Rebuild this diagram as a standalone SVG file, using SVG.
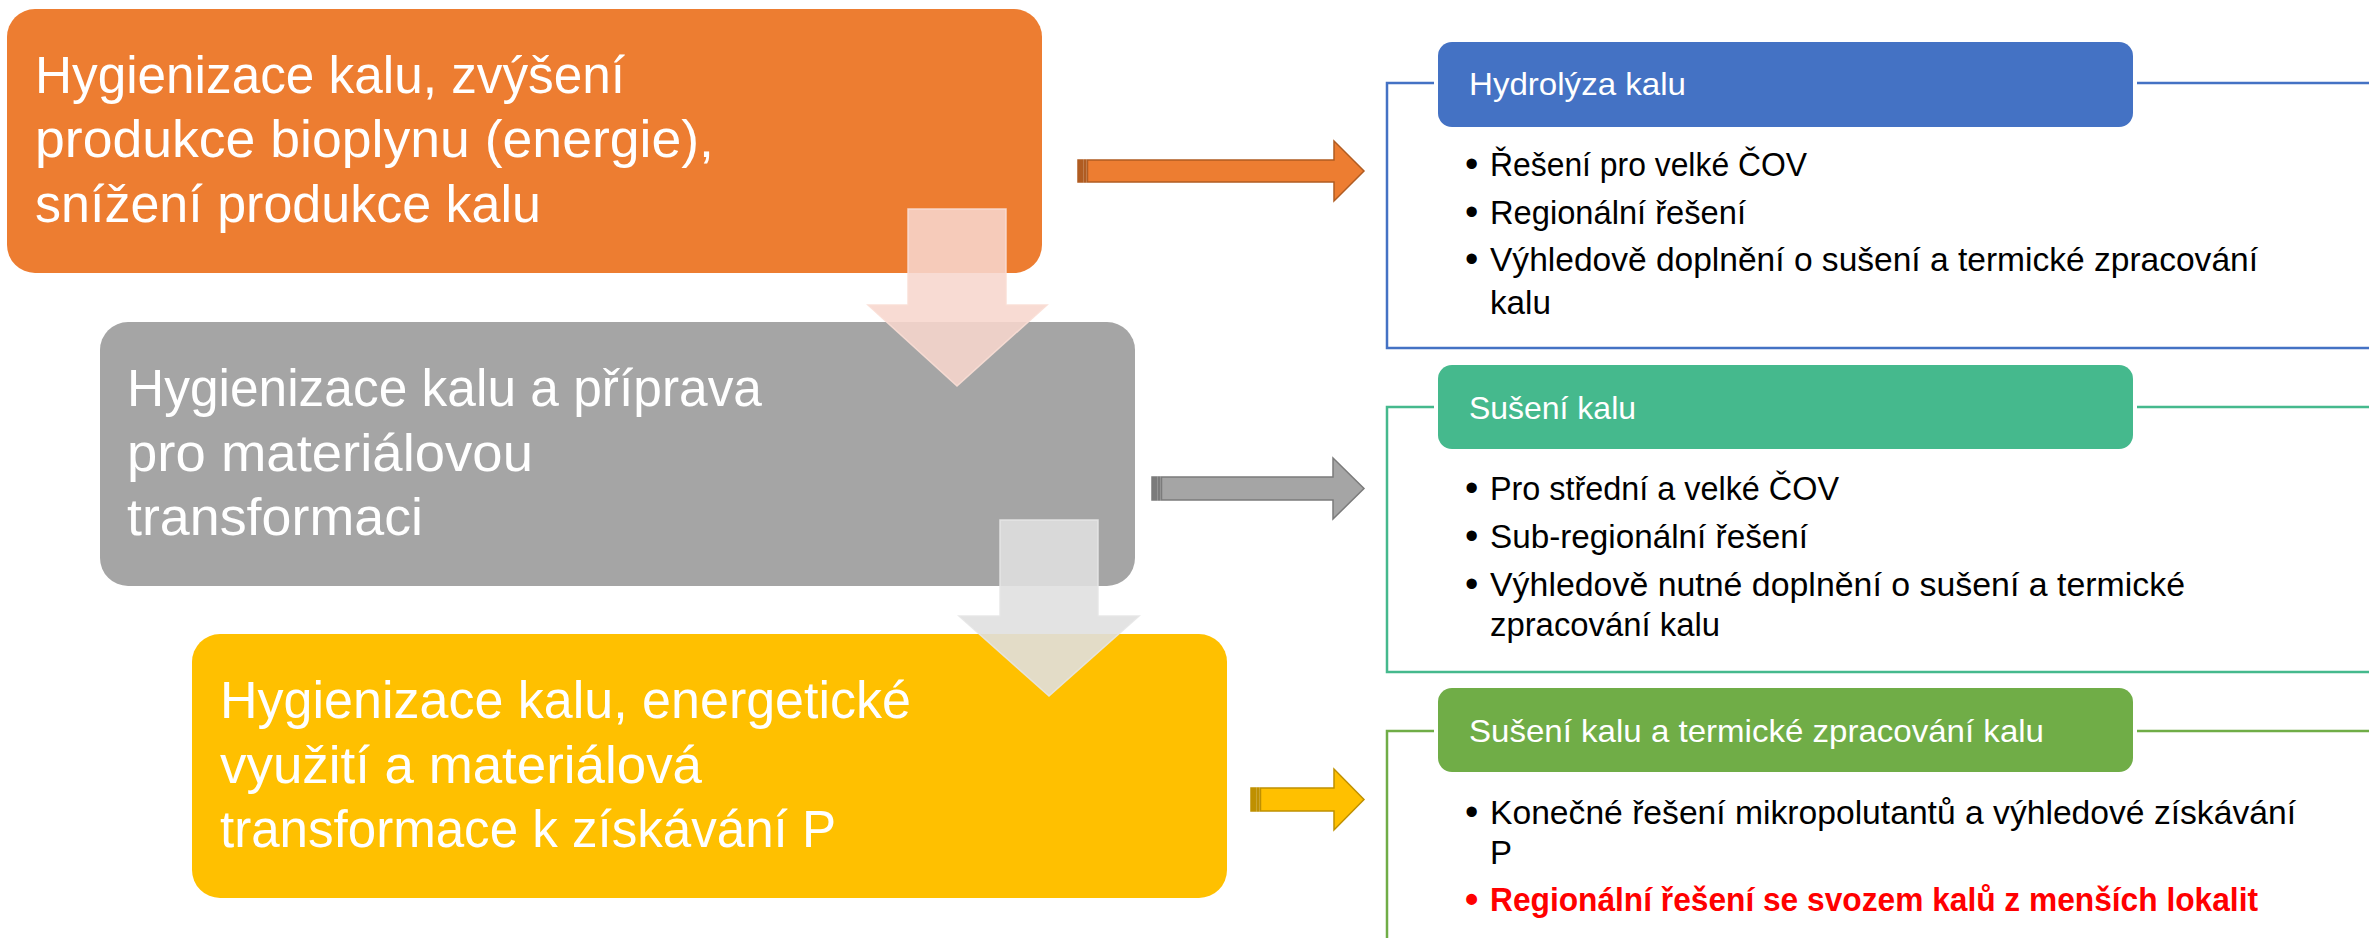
<svg xmlns="http://www.w3.org/2000/svg" width="2369" height="938" viewBox="0 0 2369 938">
  <style>
    .big { font-family: "Liberation Sans", Arial, sans-serif; font-size: 51px; fill: #ffffff; }
    .hdr { font-family: "Liberation Sans", Arial, sans-serif; font-size: 32px; fill: #ffffff; }
    .item { font-family: "Liberation Sans", Arial, sans-serif; font-size: 33px; fill: #000000; }
    .dot { font-family: "Liberation Sans", Arial, sans-serif; font-size: 38px; fill: #000000; }
    .red { font-weight: bold; fill: #ff0000; }
    .frame { fill: none; stroke-width: 2.5; }
    .gap { fill: #ffffff; }
  </style>

  <rect width="2369" height="938" fill="#ffffff"/>

  <!-- stage boxes on the left -->
  <g id="stage1">
    <rect x="7" y="9" width="1035" height="264" rx="28" fill="#ED7D31"/>
    <text class="big" x="35" y="93" textLength="590" lengthAdjust="spacingAndGlyphs">Hygienizace kalu, zvýšení</text>
    <text class="big" x="35" y="157" textLength="679" lengthAdjust="spacingAndGlyphs">produkce bioplynu (energie),</text>
    <text class="big" x="35" y="222" textLength="506" lengthAdjust="spacingAndGlyphs">snížení produkce kalu</text>
  </g>
  <g id="stage2">
    <rect x="100" y="322" width="1035" height="264" rx="28" fill="#A5A5A5"/>
    <text class="big" x="127" y="406" textLength="635" lengthAdjust="spacingAndGlyphs">Hygienizace kalu a příprava</text>
    <text class="big" x="127" y="471" textLength="406" lengthAdjust="spacingAndGlyphs">pro materiálovou</text>
    <text class="big" x="127" y="535" textLength="296" lengthAdjust="spacingAndGlyphs">transformaci</text>
  </g>
  <g id="stage3">
    <rect x="192" y="634" width="1035" height="264" rx="28" fill="#FFC000"/>
    <text class="big" x="220" y="718" textLength="691" lengthAdjust="spacingAndGlyphs">Hygienizace kalu, energetické</text>
    <text class="big" x="220" y="783" textLength="482" lengthAdjust="spacingAndGlyphs">využití a materiálová</text>
    <text class="big" x="220" y="847" textLength="616" lengthAdjust="spacingAndGlyphs">transformace k získávání P</text>
  </g>

  <!-- detail panels on the right -->
  <g id="panel-hydrolyza">
    <rect class="frame" x="1387" y="83" width="1100" height="265" stroke="#4472C4"/>
    <rect class="gap" x="1434" y="38" width="703" height="93" rx="17"/>
    <rect x="1438" y="42" width="695" height="85" rx="14" fill="#4472C4"/>
    <text class="hdr" x="1469" y="95" textLength="217" lengthAdjust="spacingAndGlyphs">Hydrolýza kalu</text>
    <text class="dot" x="1465" y="177">•</text>
    <text class="item" x="1490" y="176" textLength="317" lengthAdjust="spacingAndGlyphs">Řešení pro velké ČOV</text>
    <text class="dot" x="1465" y="225">•</text>
    <text class="item" x="1490" y="224" textLength="256" lengthAdjust="spacingAndGlyphs">Regionální řešení</text>
    <text class="dot" x="1465" y="272">•</text>
    <text class="item" x="1490" y="271" textLength="768" lengthAdjust="spacingAndGlyphs">Výhledově doplnění o sušení a termické zpracování</text>
    <text class="item" x="1490" y="314" textLength="61" lengthAdjust="spacingAndGlyphs">kalu</text>
  </g>
  <g id="panel-suseni">
    <rect class="frame" x="1387" y="407" width="1100" height="265" stroke="#45B98D"/>
    <rect class="gap" x="1434" y="361" width="703" height="92" rx="17"/>
    <rect x="1438" y="365" width="695" height="84" rx="14" fill="#45B98D"/>
    <text class="hdr" x="1469" y="419" textLength="167" lengthAdjust="spacingAndGlyphs">Sušení kalu</text>
    <text class="dot" x="1465" y="501">•</text>
    <text class="item" x="1490" y="500" textLength="349" lengthAdjust="spacingAndGlyphs">Pro střední a velké ČOV</text>
    <text class="dot" x="1465" y="549">•</text>
    <text class="item" x="1490" y="548" textLength="318" lengthAdjust="spacingAndGlyphs">Sub-regionální řešení</text>
    <text class="dot" x="1465" y="597">•</text>
    <text class="item" x="1490" y="596" textLength="695" lengthAdjust="spacingAndGlyphs">Výhledově nutné doplnění o sušení a termické</text>
    <text class="item" x="1490" y="636" textLength="230" lengthAdjust="spacingAndGlyphs">zpracování kalu</text>
  </g>
  <g id="panel-termicke">
    <rect class="frame" x="1387" y="731" width="1100" height="300" stroke="#70AD47"/>
    <rect class="gap" x="1434" y="684" width="703" height="92" rx="17"/>
    <rect x="1438" y="688" width="695" height="84" rx="14" fill="#70AD47"/>
    <text class="hdr" x="1469" y="742" textLength="575" lengthAdjust="spacingAndGlyphs">Sušení kalu a termické zpracování kalu</text>
    <text class="dot" x="1465" y="825">•</text>
    <text class="item" x="1490" y="824" textLength="806" lengthAdjust="spacingAndGlyphs">Konečné řešení mikropolutantů a výhledové získávání</text>
    <text class="item" x="1490" y="864">P</text>
    <text class="dot red" x="1465" y="912">•</text>
    <text class="item red" x="1490" y="911" textLength="768" lengthAdjust="spacingAndGlyphs">Regionální řešení se svozem kalů z menších lokalit</text>
  </g>

  <!-- connectors: translucent down arrows between stages, striped arrows to panels -->
  <g id="connectors">
    <polygon points="908,209 1006,209 1006,305 1047,305 957,386 868,305 908,305" fill="#F7D6CD" fill-opacity="0.88" stroke="#F9DED5" stroke-opacity="0.9" stroke-width="1.5"/>
    <polygon points="1000,520 1098,520 1098,616 1139,616 1049,696 959,616 1000,616" fill="#E0E0E0" fill-opacity="0.89" stroke="#E6E6E6" stroke-opacity="0.9" stroke-width="1.5"/>

    <g stroke="#B05C22" stroke-width="1.5" fill="#ED7D31">
      <rect x="1078" y="160" width="5" height="22" fill="#B05C22"/>
      <rect x="1084.5" y="160" width="1.5" height="22" fill="#B05C22"/>
      <polygon points="1087.5,160 1334,160 1334,141 1364,171 1334,201 1334,182 1087.5,182"/>
    </g>
    <g stroke="#7B7B7B" stroke-width="1.5" fill="#A5A5A5">
      <rect x="1152" y="477" width="5" height="23" fill="#7B7B7B"/>
      <rect x="1158.5" y="477" width="1.5" height="23" fill="#7B7B7B"/>
      <polygon points="1161.5,477 1333,477 1333,458 1364,488.5 1333,519 1333,500 1161.5,500"/>
    </g>
    <g stroke="#BF9000" stroke-width="1.5" fill="#FFC000">
      <rect x="1251" y="788" width="5" height="23" fill="#BF9000"/>
      <rect x="1257.5" y="788" width="1.5" height="23" fill="#BF9000"/>
      <polygon points="1260.5,788 1334,788 1334,769 1364,799.5 1334,830 1334,811 1260.5,811"/>
    </g>
  </g>
</svg>
